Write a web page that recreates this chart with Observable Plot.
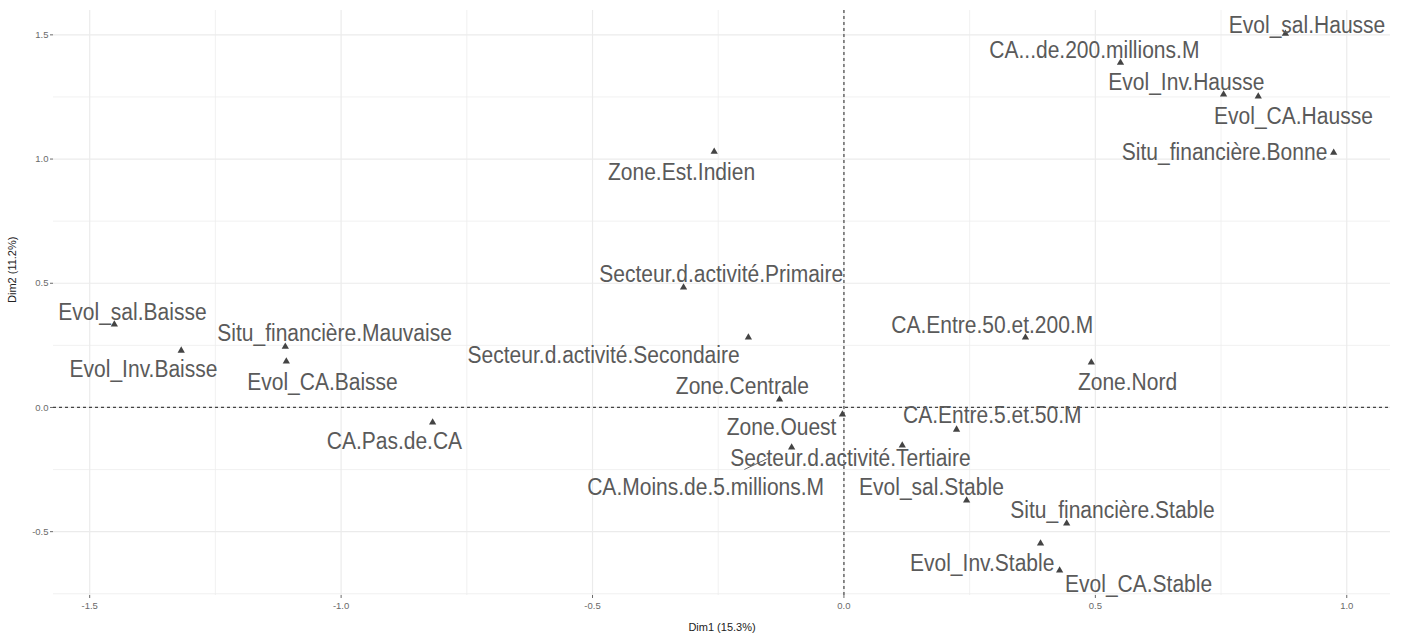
<!DOCTYPE html>
<html><head><meta charset="utf-8">
<script src="https://cdn.jsdelivr.net/npm/d3@7"></script>
<script src="https://cdn.jsdelivr.net/npm/@observablehq/plot@0.6"></script>
<style>body{margin:0;background:#fff;}</style>
</head><body><div id="chart"></div>
<script>
const labels = [
  "Evol_sal.Hausse","CA...de.200.millions.M","Evol_Inv.Hausse","Evol_CA.Hausse","Situ_financière.Bonne",
  "Zone.Est.Indien","Secteur.d.activité.Primaire","Secteur.d.activité.Secondaire","Zone.Centrale","Zone.Ouest",
  "CA.Entre.5.et.50.M","Secteur.d.activité.Tertiaire","CA.Moins.de.5.millions.M","Evol_sal.Stable","Situ_financière.Stable",
  "Evol_Inv.Stable","Evol_CA.Stable","CA.Entre.50.et.200.M","Zone.Nord","Evol_sal.Baisse",
  "Evol_Inv.Baisse","Situ_financière.Mauvaise","Evol_CA.Baisse","CA.Pas.de.CA"
];
const dim1 = [0.878,0.550,0.755,0.824,0.974,-0.258,-0.319,-0.190,-0.128,-0.003,0.224,0.116,-0.104,0.244,0.443,0.391,0.429,0.361,0.492,-1.451,-1.318,-1.111,-1.109,-0.818];
const dim2 = [1.505,1.388,1.260,1.252,1.026,1.030,0.483,0.282,0.032,-0.028,-0.089,-0.153,-0.161,-0.374,-0.467,-0.547,-0.656,0.282,0.181,0.334,0.229,0.245,0.185,-0.060];
const labelDim1 = [0.921,0.498,0.681,0.894,0.757,-0.323,-0.244,-0.478,-0.202,-0.124,0.295,0.013,-0.275,0.174,0.534,0.275,0.586,0.295,0.564,-1.415,-1.393,-1.013,-1.037,-0.894];
const labelDim2 = [1.537,1.437,1.308,1.171,1.026,0.946,0.535,0.209,0.085,-0.080,-0.032,-0.205,-0.322,-0.322,-0.414,-0.628,-0.712,0.330,0.101,0.382,0.153,0.298,0.101,-0.137];
const hasSegment = [false,false,false,false,false,false,false,false,false,false,false,false,true,false,false,false,false,false,false,false,false,false,false,false];
const xTicks = [-1.5,-1.0,-0.5,0.0,0.5,1.0];
const yTicks = [-0.5,0.0,0.5,1.0,1.5];
const xMinor = [-1.25,-0.75,-0.25,0.25,0.75];
const yMinor = [-0.75,-0.25,0.25,0.75,1.25];
const xDomain = [-1.572, 1.087];
const yDomain = [-0.757, 1.598];
const xTitle = "Dim1 (15.3%)";
const yTitle = "Dim2 (11.2%)";

const rows = labels.map((name,i)=>({name, x: dim1[i], y: dim2[i], lx: labelDim1[i], ly: labelDim2[i], seg: hasSegment[i]}));
const segs = rows.filter(d=>d.seg).map(d=>({
  x1: d.x + (d.lx-d.x)*0.28, y1: d.y + (d.ly-d.y)*0.28,
  x2: d.x + (d.lx-d.x)*0.55, y2: d.y + (d.ly-d.y)*0.55
}));

const chart = Plot.plot({
  width:1402, height:639, marginLeft:53, marginRight:12, marginTop:10, marginBottom:44,
  style:{fontFamily:"'Liberation Sans', Arial, sans-serif", background:"#fff"},
  x:{domain:xDomain},
  y:{domain:yDomain},
  marks:[
    Plot.gridX(xMinor,{stroke:"#eeeeee", strokeOpacity:1, strokeWidth:0.8}),
    Plot.gridY(yMinor,{stroke:"#eeeeee", strokeOpacity:1, strokeWidth:0.8}),
    Plot.gridX(xTicks,{stroke:"#ebebeb", strokeOpacity:1, strokeWidth:1.2}),
    Plot.gridY(yTicks,{stroke:"#ebebeb", strokeOpacity:1, strokeWidth:1.2}),
    Plot.axisX(xTicks,{tickFormat:d=>d.toFixed(1), tickSize:3, tickPadding:4, fontSize:9.5, color:"#6a6a6a", label:null}),
    Plot.axisY(yTicks,{tickFormat:d=>d.toFixed(1), tickSize:3, tickPadding:2, fontSize:9.5, color:"#6a6a6a", label:null}),
    Plot.ruleX([0],{stroke:"#444", strokeWidth:1.2, strokeDasharray:"3,3"}),
    Plot.ruleY([0],{stroke:"#444", strokeWidth:1.2, strokeDasharray:"3,3"}),
    Plot.link(segs,{x1:"x1",y1:"y1",x2:"x2",y2:"y2",stroke:"#666",strokeWidth:1}),
    Plot.dot(rows,{x:"x",y:"y",symbol:"triangle",r:2.7,fill:"#444",stroke:null}),
    Plot.text(rows,{x:"lx",y:"ly",text:"name",fontSize:21,fill:"#5a5a5a",className:"ptlabel"}),
    Plot.text([xTitle],{frameAnchor:"bottom",text:d=>d,dy:35,fontSize:11,fill:"#222"}),
    Plot.text([yTitle],{frameAnchor:"left",text:d=>d,dx:-41,rotate:-90,fontSize:11,fill:"#222"})
  ]
});
document.getElementById("chart").appendChild(chart);
// slightly condensed, taller glyphs as in the reference
d3.select(chart).selectAll("g.ptlabel text").each(function(){
  const w = this.getComputedTextLength();
  this.setAttribute("font-size", "23");
  this.setAttribute("textLength", w);
  this.setAttribute("lengthAdjust", "spacingAndGlyphs");
});
</script>
</body></html>
